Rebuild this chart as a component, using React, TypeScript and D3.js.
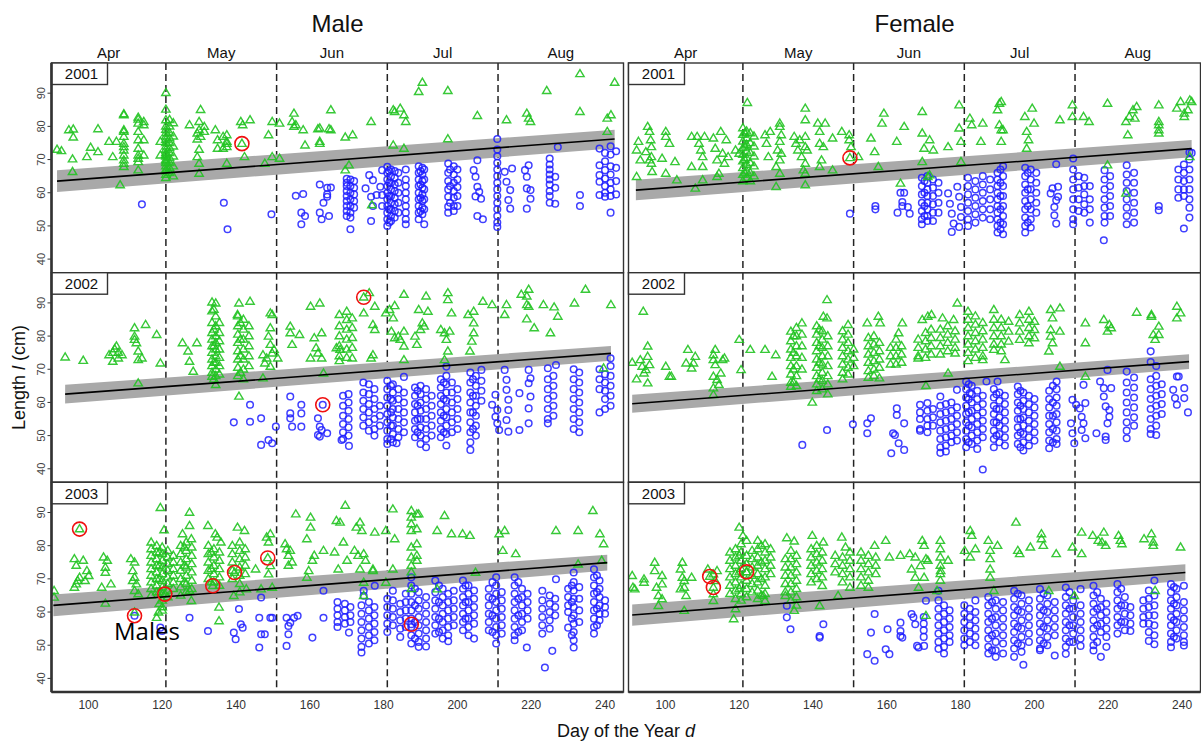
import React from 'react';
import * as d3 from 'd3';

// Each entry: [day of year, lengths (cm) measured on that day]
type Col = [number, number[]];

const m01Tri: Col[] = [
  [91.5,[73.0]],[92.7,[72.6]],[94.7,[78.9]],[95.7,[70.1,66.3]],[95.9,[79.1,76.7]],
  [99.6,[70.8]],[100.6,[73.6]],[102.6,[79.2,72.3]],
  [105.6,[75.4]],[106.6,[70.8]],[107.6,[75.4]],[108.6,[62.3]],
  [109.6,[83.7,83.4,78.9,78.4,76.9,74.8,73.8,72.8,71.3,69.8,68.8,67.8]],
  [113.5,[82.7,82.1,80.9,78.4,75.9,73.3,71.3,70.3,69.3,66.8]],
  [115,[81.4,80.4,75.9,71.3]],[119.5,[75.4,71.3]],
  [121,[90.1,85.1,81.9,80,79,78,77,76,75,74,73,72,71.5,71,70,69.5,69,68,67,66.5,65.5,64.5]],
  [122,[82,80,78,76.5,75,73.5,72,70.5,69,67.5,66]],
  [123,[81,77,74,71,68,65]],
  [127.4,[80.4]],[129.5,[77.9,76.1,70.8]],[130,[81.4,78.9,73,68.8,65.8]],[130.4,[85,76.9]],
  [131.4,[79.9,78.4]],[134.4,[78.9]],[135,[75.9,73.3]],[136.5,[76.9,73.3]],[137.5,[74.8,75.4,73.8,68.8,77.4]],
  [141.6,[74.8]],[141.3,[81.4]],[141.8,[80.4]],[143.8,[81.9]],[142.3,[70.8]],
  [147.8,[68.8]],[148.8,[77.4]],[149.8,[81.4,70.8]],[151.8,[80.9,70.3]],
  [155.7,[83.9,79.9]],[155.2,[81.4]],[156.2,[80.4]],[158.2,[78.9]],[158.7,[74.3]],
  [162.2,[79.2]],[162.7,[79.4,75.4,74.8]],[165.2,[79.2]],[165.7,[84.9,78.9]],
  [169.6,[76.7,66.8]],[171.6,[77.4]],[170.6,[68.3]],[176.6,[81.4]],[176.8,[56.3]],
  [182.6,[84.9,74.3]],[183,[84.4]],[184.5,[85.4]],[185.5,[83.4,73.3]],[186,[81.4]],
  [189.5,[90.4]],[190.5,[93.2]],[197.4,[90.7,76.2]],[205.4,[83.2]],
  [213.3,[81.9]],[218.8,[83.9]],[219.3,[82.4]],[219.8,[81.4]],[224.2,[90.7]],[233.2,[95.8,84.4]],
  [240.6,[82.4,78.4]],[241.6,[83.4]],[242.6,[93.2]],
];
const m01Circ: Col[] = [
  [114.5,[56.5]],[136.7,[57.0]],[137.7,[49.0]],[149.6,[53.5]],
  [156.2,[59.1]],[158.2,[59.6]],[157.7,[54.0,50.5]],[158.7,[53.0]],
  [162.7,[62.5,54.0]],[163.7,[57.0]],[163.2,[52.0]],[164.7,[61.5,59.5,58.8]],[165.7,[61.6]],[165.2,[53.0]],
  [170,[64.2,63,62,60.5,59,57.5,56,54.5,53]],
  [171,[64,62,60,58,56,54,52.5,49]],
  [172,[63.5,61.5,59.5,57.5,55.5]],
  [175.1,[61.3]],[176.1,[65.3]],[177.1,[63.8,56.0]],[176.6,[58.8,51.5]],[178.1,[59.3]],[179.1,[61.8]],[179.6,[66.8,59.3,56.0]],
  [181,[67.8,66,64,62,60,58,56,54,52,50]],
  [181.5,[66.5,63,59,55,51]],
  [182,[67,65,63,61,59,57,55,53,51.5]],
  [183,[66.5,64.5,62.5,60.5,58.5,56.5,54.5,52.5]],
  [184,[66,63,60,57,54]],
  [186,[67,64,62,60,58,56,54,52,50.5]],
  [189.5,[68,66,64,62,60,58,56,54,52]],
  [190,[66.5,62.5,58.5,54.5]],
  [190.5,[67.5,65.5,63.5,61.5,59.5,57.5,55.5,53.5]],
  [191,[67,64,61,58,55,50.5]],
  [197.5,[68.8,66,63.5,61,58.8,55.8,54]],
  [198,[67,62,57]],
  [199,[68,65.5,63,60.5,58.5,56,54.5]],
  [200,[67,64,61.7,59,56]],
  [204.4,[66.8]],[204.9,[64.8,58.9]],[205.4,[69.8,61.8,53.0]],[205.9,[60.3]],[206.4,[58.2]],[206.9,[52.0]],
  [210.8,[76.2,73,71,69,67,65,63,61,59,57,55,53,51,49.7]],
  [212.8,[66.3]],[213.3,[63.3]],[214.3,[60.8,55.2]],[213.8,[57.8]],[214.8,[67.3]],
  [218.3,[66.8]],[218.8,[64.8,61.3,55.2]],[219.3,[68.3]],[219.8,[60.8,58.2]],
  [225,[70.3,68.5,67,65.5,64,62.5,60.5,59,57]],[227.2,[73.8]],[226.5,[56.7,64.8,61.5]],
  [233.2,[59.3,56.0]],
  [238.5,[73.3,68.3,65.3,63.3,59.3]],
  [240,[72,69.5,66.8,64.3,62,60,58.8]],
  [241.5,[74,71.5,68,65.5,63,61,59,54]],
  [243,[72.5,67.5,63.5,59.5]],
];

const f01Tri: Col[] = [
  [92.2,[72.8,64.8]],[92.7,[75.4]],[93.2,[69.8]],[95.2,[79.9]],[95.7,[78.4,69.8]],[96,[75.9]],[96.2,[73.8,70.8,68.8]],[96.4,[66.3]],[94.7,[72.3]],
  [99.1,[70.3]],[100.1,[78.4,76.9,65.8]],[101.1,[74.8]],[103.1,[63.8]],[102.6,[69.3]],
  [107.1,[76.9,67.8]],[108.1,[61.3]],[108.6,[76.9]],[109.1,[74.8]],[109.6,[72.8]],[110.1,[70.8,67.8,63.8]],[110.6,[76.9]],
  [113,[76.4]],[113.5,[73.3]],[114,[69.8,64.8]],[114.5,[65.8]],[115,[78.4]],[115.5,[71.8]],[116,[68.8]],[116.5,[75.9]],[117,[70.8]],
  [119,[72.8]],[120,[71.8]],
  [121,[79.5,77.5,75.5,73.5,71.5,69.5,67.5,65.5,63.5]],
  [121.5,[78,74,70,66]],
  [122,[78.5,76.5,74.5,72.5,70.5,68.5,66.5,64.5]],
  [122.2,[87.1]],
  [123,[78,75,72,69,66,63.5]],
  [124,[77,74,71,68,65]],
  [127,[77.4]],[127.4,[74.8]],[127.9,[70.8]],[128.4,[78.4]],
  [131,[80.9,79.9,75.4,69.8,65.8]],[131.4,[77.4,71.8]],[130.4,[72.8]],[130,[67.8,61.8]],
  [134.9,[76.9]],[135.4,[74.8]],[135.9,[72.8]],[136.4,[75.9]],[136.9,[70.8]],[137.9,[85.4,81.9,76.9,73.8,68.8,65.8,62.3]],[138.4,[72.8]],[137.4,[66.8]],
  [141.3,[80.9]],[141.8,[78.4,74.8,67.8]],[142.3,[69.8]],[142.8,[73.8]],[143.3,[80.9]],[145.3,[76.4,66.8]],
  [147.8,[78.4]],[149.8,[77.4,75.9]],[150.3,[73.8]],[150,[70.5]],[152.3,[70.8]],
  [155.7,[76.4]],[156.7,[72.3]],[157.7,[67.8]],[158.7,[80.9]],[159.2,[83.9]],[162.7,[75.4]],[163.7,[62.8]],[164.7,[79.9]],
  [169.6,[84.4,77.9,69.3]],[170.1,[73.3]],[171.6,[75.9,65.3]],[172.6,[72.8]],[171.1,[64.8]],
  [176.6,[73.8]],[179.6,[86.4,79.4]],[180.1,[75.4,69.3]],
  [182.5,[82.4]],[183,[80.4]],[186,[80.9]],[185.5,[75.4]],[190,[84.9]],[190.5,[86.9,80.4]],[191,[87.4,78.9,75.4]],[191.5,[78.9]],
  [197.4,[82.9]],[197.9,[78.4,73.3]],[198.4,[75.9]],[199.4,[85.4]],[199.9,[80.9]],
  [206.9,[81.9]],[210.3,[86.4,82.9]],[213.3,[82.9]],[214.8,[81.4]],
  [219.8,[86.9,68.3]],[224.8,[81.4,59.8]],[225.3,[77.4]],[225.7,[82.9]],[226.7,[84.9]],[227.2,[82.4]],[227.7,[85.9]],
  [233.7,[86.4,81.4,80.4,78.9,77.9]],
  [238.6,[85.4]],[239.6,[87.4]],[240.6,[83.9,82.9]],[242.1,[87.9,70.8]],[242.6,[87.4]],[241.6,[84.9]],
];
const f01Circ: Col[] = [
  [150,[53.7]],
  [156.9,[56.0,55.0]],[162.9,[54.0]],[163.7,[60.0]],[164.7,[60.0]],[164.2,[56.0,57.2]],[165.7,[55.7]],[166.2,[53.7]],
  [169.5,[64.5,62,59.5,57,54.5,52,50.5]],
  [170.2,[63.5,60,56,53]],
  [171,[65,63,61,59,57,55,53,51.5]],
  [172.5,[64,61.5,59,56.5,54,51.5]],
  [174,[63,60,57,54]],
  [176.6,[59.8]],[177.1,[56.7]],[177.6,[53.7,48.2]],[178.1,[50.7]],[179.1,[61.8]],[179.6,[58.8,49.7]],[180.1,[55.7,52.7]],
  [182,[64.5,62,59.5,57,54.5,52,50]],
  [184,[63.5,61,58.5,56,53.5,51]],
  [186,[65,62.5,60,57.5,55,52.5]],
  [188,[64,61,58,55,52]],
  [190,[66,64,62,60,58,56,54,52,50,48]],
  [190.8,[67,63,59,55,51,49]],
  [191.5,[68,65,62,59,56,53,50.5,47.5]],
  [197.5,[67.5,65,62.5,60,57.5,55,52.5,50,48]],
  [198.2,[66,61,56,51]],
  [199,[67,64,61,58,55,52,49.5]],
  [200.5,[66,63,60,57,54]],
  [204.4,[59.8]],[204.9,[61.3]],[205.9,[57.7,50.7,68.6]],[205.4,[55.7,53.2]],[206.4,[61.8,58.8]],
  [210.5,[70.3,67,64,61,58,55,52,50.5]],
  [212,[65,61.5,58,54.5]],
  [213.5,[64.5,62,59.5,56.5,54]],
  [215,[62,58,55,51]],
  [219,[66.8,64,61,58,55.5,53,51]],
  [220.5,[65,62,59,56,53]],
  [218.8,[45.7]],
  [225,[68.3,65.5,63,60.5,58,55.5,53,50.5]],
  [227,[66,63,60,57,54,51]],
  [233.7,[56.0,54.7]],
  [239,[67,64,61,58.5]],
  [240.5,[68.5,66,63.5,61,59,49.2]],
  [242,[72.2,70,67,64,61,58,55.5,52.5]],
  [242.6,[72.0]],
];

const m02Tri: Col[] = [
  [93.7,[73.6]],[98.6,[72.6]],
  [105.6,[74.3]],[106.6,[75.0,72.3]],[107.1,[76.1]],[107.6,[76.9]],[108.1,[75.0,73.3]],[109.1,[74.3]],[113.5,[65.8,75.4,72.8]],
  [112.5,[82.4,79.9,78.9]],[113,[77.9]],[114.5,[73.3]],[115.5,[83.4]],[118.5,[80.4]],[119.5,[71.8]],
  [125.5,[77.9]],[127,[75.4]],[127.4,[72.3]],[128.4,[69.3]],[129.4,[77.9]],
  [133.5,[90.2,87.5,84,81,79,77,75,73,71,69,67.8]],
  [134,[88,82,77,72,67]],
  [134.5,[89.9,86,83,80,78,76,74,72,70,68,65.3]],
  [135.5,[84,81,78.5,76,73.5,71,68.5]],
  [140.8,[89.9,61.8]],[143.8,[90.4]],[140.4,[86.4]],
  [140.5,[86,83,80.5,78,75.5,73,70.5,68]],
  [141.2,[84,79,74,69]],
  [142,[85,82,79,76,73,70,67]],
  [143.5,[83,80,77,74,71]],
  [147.3,[67.3,74.3]],[148.3,[73.3]],[149.3,[86.9,82.4,77.4,70.8]],[149.8,[86.4,74.8]],[148.8,[79.9]],[147.8,[71.8]],[150.3,[75.9]],[151.3,[73.3]],
  [154.7,[82.9,80.9]],[155.2,[77.4]],[157.2,[80.4]],[160.2,[88.9,73.3]],[162.7,[89.9]],[161.2,[79.4]],[161.7,[76.4]],[163.2,[80.9,73.3]],[162.2,[74.8]],[163.7,[68.8]],
  [167.2,[76.4]],[168.2,[75.9]],
  [168,[86.4,83,80,77,74,72.5]],
  [170,[87.4,84.9,82,79,76,73.5]],
  [171.5,[85.4,82.5,79.5,76.5,73.3]],
  [174.6,[91.7,86.9]],[176.1,[93.0]],[177.6,[88.9,81.9]],[177.1,[83.4,74.3]],[176.6,[73.3]],
  [180.6,[86.9]],[181.6,[87.9]],[183,[89.1,79.4]],[182.6,[85.4]],[185.5,[92.5,81.4,76.9,72.8]],[182.1,[81.4]],[184,[79.9]],[184.5,[78.9]],
  [188.5,[79.9]],[189,[77.4]],[189.5,[87.9]],[190.5,[83.9]],[191,[82.9]],[191.5,[92.0]],[192,[87.4]],[190,[81.9]],
  [195.5,[81.9]],[196.5,[80.9,72.8]],[197,[78.9]],[197.4,[93.0,90.9,75.4]],[197.9,[81.4]],[198.4,[86.9]],
  [202.9,[86.4]],[204.4,[87.4,83.9,80.9]],[203.9,[78.4]],[203.4,[75.4]],[206.9,[90.4]],[209.4,[89.4]],
  [212.8,[86.4]],[213.3,[89.4]],[217.3,[92.5]],[219.3,[94.0,88.9]],[218.8,[92.0,89.4,85.1]],[220.8,[82.4]],[223.3,[89.4]],[226.2,[88.7]],[227.2,[85.9]],[225.2,[80.9]],[231.7,[89.9]],[234.7,[94.0]],[241.6,[89.4]],[239.6,[70.3]],
];
const m02Circ: Col[] = [
  [139.4,[54.0]],[143.8,[59.3,54.2]],[146.8,[55.2,47.2]],[148.8,[48.7]],[149.8,[47.7]],[150.8,[52.7]],
  [154.7,[61.8,56.7,55.2]],[155.2,[52.7]],[157.7,[59.3,56.7,52.7]],
  [163.5,[59.3]],[162.2,[55.2,50.2]],[162.7,[52.7,49.7]],[163.2,[51.7]],[164.7,[50.7]],
  [169,[62,59,56,53.5,51,49]],
  [170.5,[62.5,60,57.5,55,52.5,50]],
  [170.6,[46.9]],[168.6,[48.7]],
  [174.5,[66,63,60.5,58,55.5,53]],
  [176,[65.5,62.5,59.5,57,54,51.5]],
  [177.5,[64,61,58,55,52,50]],
  [179,[59,56,53]],
  [181,[66.5,64,61.5,59,56.5,54,51.5,49,47.5]],
  [182,[65,61,57,53,49]],
  [182.5,[65.5,63,60.5,58,55.5,53,50.5,48]],
  [184,[64,61,58,55,52,49.5]],
  [185.5,[67.7,63,60,57,54,51]],
  [183.5,[47.7]],
  [188.5,[64.5,62,59.5,57,54.5,52,49.5]],
  [189.2,[63.5,59,55,51]],
  [190,[65,62.5,60,57.5,55,52.5,50,47.5]],
  [191.5,[64,61,58,55,52,49,46.5]],
  [193,[62,59,56,53,50]],
  [195.5,[67,64.5,62,59.5,57,54.5,52,49.5]],
  [196.3,[66,61,56,51]],
  [197,[70.8,68,65.5,63,60.5,58,55.5,53,50.5,47]],
  [198.5,[66,63,60,57,54,51]],
  [200,[64,61,58,55,52]],
  [203.5,[69,66,63,60,57,54,51,48,45.7]],
  [204.2,[67,62,57,52]],
  [205,[68,65,62,59,56,53,50]],
  [206.5,[69.8,66.5,63.5,60.5]],
  [209.4,[59.3]],[210.3,[62.3,55.7]],[210.8,[57.7,53.7]],[211.3,[51.7]],
  [212.8,[69.8]],[213.3,[66.8,63.8,54.7]],[213.8,[60.8,57.7,51.2]],[216.8,[51.7,62.8]],
  [219.3,[69.8,65.8,53.7,58.2]],[219.8,[67.3,61.8]],
  [224.5,[70.3,67,64,61,58,55,53.7]],
  [226,[68,65,62,59,56]],
  [226.7,[71.3]],
  [231.5,[70,67,64,61,58,55,52]],
  [233,[69,66,63,60,57,54,51]],
  [238.5,[70,67,64,57]],
  [240,[68.5,66,63.5,61,58]],
  [241.5,[73.3,71,68,65,62,59]],
];

const f02Tri: Col[] = [
  [91,[72.0]],[92.2,[67.0]],[94,[87.4]],[93.2,[72.8]],[93.7,[70.8]],[94.2,[68.8]],[94.7,[69.8]],[95.2,[73.8,76.9,65.8]],[95.7,[71.3]],
  [100.1,[70.8]],[101.1,[67.8]],[101.6,[67.8]],[106.1,[75.9]],[105.6,[71.8]],[107.1,[70.3]],[107.6,[71.8]],[108.1,[73.8]],
  [113,[74.3,72.8,67.8,64.3,62.3]],[113.5,[75.9,71.3]],[114,[66.8]],[114.5,[65.3]],[115.5,[72.8]],[116,[73.3]],[115,[68.8]],
  [120,[78.9]],[120.5,[69.8]],[123,[75.9]],[127,[75.9]],[128.9,[67.8]],[129.9,[74.3]],
  [134,[81.4,78.5,76,73.5,71,68.5,66,64.8]],
  [134.7,[80,75,70,66]],
  [135.5,[82.5,80,77,74,71,68,65]],
  [137,[83.9,80.5,77,73.5,70]],
  [139.8,[60.0]],
  [143.8,[90.9,85.4]],[142.8,[85.9]],
  [141,[83,80.5,78,75.5,73,70.5,68,65.5,63.5]],
  [141.7,[82,77,72,67]],
  [142.5,[81.5,79,76.5,74,71.5,69,66.5,64]],
  [144,[80,77,74,71,68,65.5,62.5]],
  [148,[81.5,79,76.5,74,71.5,69,67]],
  [149.5,[83.4,80.5,78,75.5,73,70.5,68.5]],
  [151,[76,73.5,71]],
  [154.7,[83.9]],[157.7,[85.9]],[158.2,[83.9]],
  [155,[79.5,77,74.5,72,69.5,67.5]],
  [156.5,[80,77.5,75,72.5,70,68]],
  [158,[78,75.5,73,70.5,67.3]],
  [164.2,[83.9]],[163.2,[80.9]],
  [161,[76.5,74,71.5]],[162.5,[79,76.5,74,71.5]],[164,[77,74.5,72]],
  [169.6,[84.9]],[171.1,[85.9]],[172.1,[86.4]],
  [168.5,[79,76.5,74,73.3]],[170.5,[81,78.5,76,73.5]],[172,[82,79.5,77,74.5]],
  [170.6,[65.0]],[176.6,[68.8]],
  [175.1,[85.4]],[178.1,[84.9]],[179.1,[89.9]],
  [174.5,[82,79.5,77,74.5]],[176.5,[83,80.5,78,75.5]],[178.5,[81.5,79,76.5,74.8]],
  [182,[87.4,85,82.5,80,77.5,75,72.5]],
  [184,[86,83.5,81,78.5,76,73.5]],
  [186,[84,81.5,79,76.5,74,72.8]],
  [189,[87.9,85,82.5,80,77.5,75.9]],
  [191,[85,82.5,80,77.5,75.5]],
  [193,[84.4,81.4,78.4]],[192,[72.8]],
  [196,[86.4,83.9,81.4,78.9]],
  [198.5,[87.4,85,82.5,80,77.9]],
  [200,[84.4,81.9,79.4]],
  [204.4,[87.9,81.9,79.9]],[206.9,[88.4,81.4,70.8]],[204.9,[85.4,77.9]],[203.9,[75.4]],
  [213.8,[83.9,77.9,67.8]],[218.8,[84.9]],[220.3,[83.4]],[220.8,[82.4]],[219.8,[81.4]],
  [227.7,[87.1]],[231.7,[86.4,85.9]],[233.7,[82.9,80.4]],[232.2,[80.4]],[232.7,[78.9]],
  [238.6,[88.9,85.4]],[239.6,[86.9]],
];
const f02Circ: Col[] = [
  [137.1,[47.2]],[143.8,[51.7]],[150.8,[53.4]],[154.7,[53.7,50.7]],[155.7,[55.2]],[161.7,[50.7]],[162.2,[50.2]],[162.7,[58.2,56.2]],[163.2,[47.7]],[161.2,[44.7]],[164.7,[53.7,45.7]],
  [169,[59.3,57,55,52,51.5]],
  [171,[59.8,57.5,55,53,51]],
  [172.5,[58,55.5,53]],
  [174.5,[61.8,59,56.5,54,51.5,49,46.5,44.8]],
  [176,[59.5,57,54.5,52,49.5,47,45.2]],
  [177.5,[60,57.5,55,52.5,50,48]],
  [179,[63.8,58.5,56,53.5,51,48.5]],
  [181.5,[66.3,64,61.5,59,56.5,54,51.5,49,46.5]],
  [182.2,[65.5,61,57,53,48]],
  [183,[65,62.5,60,57.5,55,52.5,50,47.5]],
  [184.5,[63.5,61,58.5,56,53.5,51,48.5,46]],
  [186,[62,59.5,57,54.5,52,49.5,39.8]],
  [182.5,[62.8]],[187,[66.3]],
  [189,[64,61.5,59,56.5,54,51.5,49,46.5]],
  [189.7,[62.5,58,54,50]],
  [190.5,[63,60.5,58,55.5,53,50.5,48]],
  [192,[62,59.5,57,54.5,52,49.5,47]],
  [190,[66.3]],
  [195.5,[64.8,62.5,60,57.5,55,52.5,50,47.5]],
  [196.2,[63.5,59,55,51,46.5]],
  [197,[63,60.5,58,55.5,53,50.5,48,45.5]],
  [198.5,[62,59.5,57,54.5,52,49.5,47]],
  [200,[61,58.5,56,53.5,51,48.5]],
  [204,[63.5,61,58.5,56,53.5,51,48.5,46.2]],
  [205,[65,60,56,52,48]],
  [206,[66.3,64,61.5,59,56.5,54,51.5,49,47.5]],
  [209.9,[53.7]],[210.3,[60.8,50.7]],[210.8,[47.7]],[211.3,[59.3]],[212.3,[58.2]],[212.8,[55.7,51.7]],[213.3,[53.7,65.3]],[213.8,[59.8,49.2]],
  [216.8,[50.7]],[217.8,[66.3]],[218.8,[64.3,61.8]],[219.3,[58.8,49.7,48.7]],[220.3,[57.7,55.7]],[219.8,[53.7,69.8]],[220.8,[64.3]],
  [225,[69.3,66,63,60,57,54,51.5,49.2]],
  [227,[67.5,64.5,61.5,58.5,55.5,53]],
  [231.5,[75.4,72.2,67,64,61,58,55,52,50.5]],
  [233,[71,68,65,62,59,56,53,50.2]],
  [234.5,[65.5,62.5,59.5,56.5]],
  [237.6,[63.8]],[238.1,[61.3]],[238.6,[67.8,59.3]],[239.1,[67.8]],[240.6,[64.3,61.3]],[241.6,[57.0]],
];

const m03Tri: Col[] = [
  [97.6,[85.0,70.4]],[90.7,[66.4,64.4]],
  [96.2,[76.0,67.4]],[96.7,[74.0,68.4]],[98.6,[75.5]],[97.1,[69.4]],[99.6,[72.4]],[100.1,[70.9]],[99.1,[69.4]],
  [103.6,[67.4]],[104.1,[76.5]],[105.1,[75.5]],[104.6,[73.4,71.9,62.6]],[106.1,[68.4]],
  [111.5,[76.0]],[112.5,[75.0,70.4,66.4,59.9]],[112,[72.4,69.4]],[113,[68.4]],[113.5,[65.4]],
  [119.5,[91.4]],[120.5,[84.7]],
  [117,[81,79,77,75,73,71,69,67,65]],
  [118.5,[80,78,76,74,72,70,68,66,58.3]],
  [119.2,[78,74,70,66,62.5]],
  [120,[79.5,77.5,75.5,73.5,71.5,69.5,67.5,65.5,63.5,61.5,60.5]],
  [121.5,[78.5,76.5,74.5,72.5,70.5,68.5,66.5,64.5]],
  [123,[77,75,73,71,69,67]],
  [119,[59.9]],[120.7,[65.4]],
  [127.4,[90.0,86.0,66.4]],[125.5,[83.5]],[127.9,[82.0,63.4]],
  [125,[80,77.5,75,72.5,70,67.5,65]],
  [126,[79.5,74,69]],
  [126.5,[81,78.5,76,73.5,71,68.5,66]],
  [128,[79.5,77,74.5,72,69.5,67]],
  [132.4,[86.0]],[134.4,[83.5]],[134.9,[82.5]],[135.9,[81.0]],
  [132.5,[80,77.5,75,72.5,70]],
  [133.3,[78,73,69]],
  [134,[79,76.5,74,71.5,69]],
  [135.5,[78,75.5,73,70.5,68]],
  [135.4,[61.4,57.3]],[133.7,[67.9]],
  [140.4,[85.5]],[142.3,[84.5]],
  [139,[80,77.5,75,72.5,70]],
  [141,[81,78.5,76,73.5,71,68.5,66]],
  [142.5,[79,76.5,74,71.5]],
  [139.4,[64.9]],[142.8,[66.9]],[139.6,[71.9]],
  [145.3,[72.9]],[146.8,[66.9]],[148.3,[82.5]],[148.8,[81.0,71.4]],[149.3,[73.9,83.5]],[149.8,[67.4]],[148.6,[76.3]],
  [153.3,[80.5]],[153.7,[79.0]],[154.2,[74.0,77.0]],[155.2,[75.0]],[154.7,[78.5]],[156.2,[89.5]],[159.2,[82.0,70.4]],[159.7,[72.4]],[160.2,[88.5,85.5]],[161.2,[77.0]],[160.7,[75.5]],[163.7,[78.5]],[166.7,[78.0]],[167.7,[72.9]],[167.2,[87.5]],[168.2,[87.0]],[169.1,[81.0]],[169.6,[92.1]],[170.1,[75.5]],[172.1,[78.5]],
  [172.6,[85.5]],[173.6,[87.0,72.9]],[174.1,[84.5]],[174.6,[77.5,68.9,64.9]],[173.1,[77.0]],[175.1,[75.5]],[177.1,[72.4,72.9]],[177.6,[84.0]],[180.6,[84.5,68.9]],[182.5,[91.0,72.9]],[183,[82.0]],
  [187.5,[90.5,88.5,86.5,84.5,79.5,76.5,74,72,67]],
  [189,[89.5,85,80.5,77,75.5]],
  [189.5,[89.5]],
  [194.5,[84.5,66.9]],[196.5,[89.0]],[198.4,[83.5]],[201.4,[83.5]],[203.4,[83.0]],[204.9,[71.9]],[211.3,[83.5]],[212.8,[84.5]],[212.3,[78.5]],[215.8,[77.5]],[226.7,[84.5]],[232.7,[84.5,74.4]],[236.7,[90.5]],[238.6,[83.5]],[239.6,[80.5]],[239.1,[75.5]],
];
const m03Circ: Col[] = [
  [112.5,[58.9]],
  [119.5,[55.3]],[120,[54.3]],[127.4,[58.3]],[132.4,[54.3]],[140.8,[60.9]],[141.3,[56.3]],[141.8,[55.3]],[139.4,[53.8]],[139.9,[51.8]],[146.8,[64.4,53.3]],[146.3,[58.3,49.3]],[147.8,[53.3]],[149.3,[58.3]],[149.8,[58.3]],
  [153.7,[58.3,49.8]],[154.7,[56.8]],[154.2,[55.8,53.3]],[155.7,[58.3]],[156.7,[58.9]],[160.7,[52.3]],[163.7,[58.3,66.4]],
  [167.5,[63,61,59,57,55.5]],
  [169.5,[62.5,60.5,58.5,56.5]],
  [171,[61.5,59,57]],
  [170.6,[53.8]],
  [174.6,[66.4,64.9]],
  [174,[62,59.5,57,54.5,52,49.5,47.8]],
  [176,[63,60.5,58,55.5,53,50.5]],
  [177.5,[61.5,59,56.5,54,51.5]],
  [177.6,[67.9]],
  [181,[64,61.5,59,56.5,54]],
  [182.5,[66.4,63.5,61,58.5,56]],
  [184.5,[62.5,60,57.5,55,52.5]],
  [186,[65.5,63,60.5,58,55.5]],
  [187.5,[70.5,68,65.5,63,60.5,58,56.3,55.5,53,50.5]],
  [188.5,[67,62,57,52]],
  [189.5,[66,63.5,61,58.5,56,53.5,51,49.5]],
  [191.5,[64.5,62,59.5,57,54.5,52,49.6]],
  [194,[69.5,66,63.5,61,58.5,56,53.5]],
  [195,[68,63,58,54]],
  [196,[67,64.5,62,59.5,57,54.5,52]],
  [197.5,[65.5,63,60.5,58,55.5,53,51.2]],
  [199,[66.4,63.5,61,58.5,56]],
  [201.5,[69.5,67,64.5,62,59.5,57,54.5]],
  [202.2,[68,63,58]],
  [203,[68,65.5,63,60.5,58,55.5,53]],
  [204.5,[66.5,64,61.5,59,56.5,52]],
  [208.5,[67,64.5,62,59.5,57,54.5]],
  [209.5,[69,64,59,54]],
  [210.5,[70.5,68,65.5,63,60.5,58,55.5,53,50.5]],
  [212,[66,63.5,61,58.5,56,53.5]],
  [215.5,[70.5,68,65.5,63,60.5,58,55.5,53,51.5]],
  [216.5,[69,64,59,54]],
  [217.5,[67,64.5,62,59.5,57,54.5]],
  [219,[65.5,63,60.5,58]],
  [218.8,[49.3]],
  [226.7,[69.9]],[223.7,[43.3]],[225.7,[48.3]],
  [223,[66.4,63.5,61,58.5,56,53.5]],
  [225,[65,62.5,60,57.5,55]],
  [226.5,[64,61.5,59]],
  [230,[67,64.5,62,60,55.3]],
  [231,[68,63,58,53]],
  [231.5,[71.9,69,66.5,64,61.5,59,56.5,54,51.5,49.3]],
  [233,[67.5,64,60.5,57]],
  [237,[72.9,70.5,68,65.5,63,60.5,58,55.5,53.5]],
  [237.8,[71,66,61,56]],
  [238.5,[69.5,67,64.5,62,59.5,57.5]],
  [240,[63.5,61.5,59.5]],
];

const f03Tri: Col[] = [
  [91,[70.9]],[91.7,[66.9]],[91.2,[67.4]],[94.2,[69.9,68.9]],[97.1,[74.9,72.4]],[97.6,[67.4]],[98.1,[64.9,61.9]],[99.1,[70.9,68.4,63.9]],
  [104.1,[72.9,66.9]],[104.6,[74.9,70.4]],[105.1,[69.4,67.4,60.4]],[105.6,[64.9]],[107.1,[70.4]],
  [112,[70.7]],[113,[67.4,71.4,65.4,63.4]],[111.5,[72.9]],[113.5,[69.4]],[114,[72.4]],
  [120,[85.5,77,72,67]],[121,[83.0]],
  [117.5,[78,75.5,73,70.5,68,65.5]],
  [119,[79,76.5,74,71.5,69,66.5,64,60.9]],
  [120.5,[80.5,78,75.5,73,70.5,68,65.5,63.5]],
  [122,[81.5,77,74.5,72.1,72,69.5,67,64.5]],
  [123.5,[78.5,76,73.5,71,68.5,66]],
  [118.5,[57.9]],
  [125,[81.5,79,76.5,74,71.5,69,66.5,64]],
  [126,[80,75,70,65]],
  [127,[80.5,78,75.5,73,70.5,68,65.5,63.4]],
  [128.5,[79,76.5,74,71.5]],
  [126.5,[64.9]],
  [132.9,[82.3]],[134.9,[81.3,60.4]],
  [132.5,[76,73.5,71,68.5,66,64.9]],
  [134,[78.5,76,73.5,71,68.5,66,63.5]],
  [135.5,[77,74.5,72,69.5,67,64.5,62]],
  [139.8,[83.0]],[142.8,[81.0]],
  [139.5,[79,76.5,74,71.5,69]],
  [141,[80,77.5,75,72.5,70]],
  [142.5,[78,75.5,73,70.5,67.9]],
  [141.8,[61.9]],
  [147.8,[82.5]],[148.8,[79.5]],
  [146,[77,74.5,72]],
  [148,[76.5,74,71.5,69]],
  [150,[78,75.5,73,70.5,67.4]],
  [146.8,[64.9]],
  [156.7,[80.0]],[159.7,[81.5]],
  [153,[78,75.5,73,70.5,68]],
  [155,[77,74.5,72,69.5,67.4]],
  [157,[76.5,74,71.5]],
  [160.7,[76.5]],[163.7,[77.0]],[166.2,[77.5]],[166.7,[72.9]],[167.7,[76.5,70.4]],[168.6,[67.4]],[169.1,[73.9]],[169.6,[81.5]],[170.1,[80.0,70.4]],[170.6,[76.0,58.9]],[171.1,[75.5]],
  [174.5,[81.5,79,76.5,74,71.5,69.5]],[176.6,[75.5]],[174.6,[72.4]],[173.6,[66.4]],
  [181.1,[78.5]],[182.6,[84.5,76.5]],[183,[83.0]],[184,[79.0]],[187.5,[81.5]],[188,[78.5,76.0,72.9,70.4]],[189,[66.4]],[190,[80.0]],[195,[87.0]],[195.5,[78.5]],[196,[77.5]],[198.9,[79.5]],[201.9,[83.5,82.0]],[202.4,[80.0]],[203.9,[66.4]],[205.9,[77.5]],[210.3,[79.5]],[212.8,[84.0,77.5]],[215.8,[83.0]],[217.3,[81.5]],[218.3,[81.0]],[218.8,[84.0]],[219.3,[80.0]],[222.8,[83.0]],[223.3,[81.5]],[223.7,[80.5]],[229.7,[82.0]],[231.7,[83.5]],[232.2,[81.0,80.0]],[239.6,[79.5]],[232.7,[66.4]],[210.8,[64.9]],
];
const f03Circ: Col[] = [
  [132.9,[61.9,58.4]],[133.9,[54.8]],[141.8,[52.8,52.3]],[142.8,[56.3]],
  [154.7,[47.3]],[155.7,[53.8]],[156.7,[59.4,45.3]],[160.2,[54.8]],[159.7,[48.8]],[160.7,[47.3]],[163.7,[56.8,54.3,52.8]],[164.2,[52.3]],[166.7,[59.4]],[167.2,[58.4]],[167.7,[56.3]],[168.2,[49.8]],[168.6,[49.3]],[170.1,[49.8]],
  [170,[58.5,56.5,54.5,52.5]],[170.6,[63.4]],
  [174,[66.4,63.5,61,58.5,56,53.5,51,48.9]],
  [175.5,[62,59.5,57,54.5,52,49.5,47.5]],
  [177,[60.5,58,55.5,53,51]],
  [181,[62,59.5,57,54.5,52,50]],
  [182.5,[61,58.5,56,53.5,51]],
  [184,[63.5,60,57.5,55,52.5,50]],
  [187.5,[64.5,62,59.5,57,54.5,52,49.5,47.5]],
  [188.5,[63,58,53,48.5]],
  [189.5,[63.5,61,58.5,56,53.5,51,48.5,46.5]],
  [191.5,[63,60.5,58,55.5,53,50.5,47.5]],
  [194.5,[66.4,64,61.5,59,56.5,54,51.5,49,46.5]],
  [195.5,[65.5,60.5,55.5,50.5]],
  [196.5,[65,62.5,60,57.5,55,52.5,50,48]],
  [198.5,[63.5,61,58.5,56,53.5,51]],
  [197,[44.1]],
  [201.5,[66.9,64,61.5,59,56.5,54,51.5,49,48.5]],
  [202.5,[65.5,60.5,55.5,50.5]],
  [203.5,[65,62.5,60,57.5,55,52.5,50]],
  [205.5,[63,60.5,58,55.5,53,46.9]],
  [208.5,[67.4,64.5,62,59.5,57,54.5,52,49.5,47.4]],
  [209.5,[66,61,56,51]],
  [210.5,[63.5,61,58.5,56,53.5,51]],
  [212.5,[66.9,62,59.5,57,54.5,52,49.8]],
  [216,[67.9,65,62.5,60,57.5,55,52.5,50,48.4]],
  [217,[66,61,56,51]],
  [218,[64,61.5,59,56.5,54,46.5]],
  [219.5,[62.5,60,57.5,55,52.5,49.5]],
  [222.5,[68.4,66,63.5,61,58.5,56,53.5]],
  [223.5,[67,62,57]],
  [224.5,[64.5,62,59.5,57,54.5]],
  [226,[61.5,59,56.5,54.3]],
  [229.5,[63.5,61,58.5,56.5]],
  [231,[66.5,64,61.5,59,56.5,54,51.3]],
  [232.5,[69.5,65,62,59,56,53,50.3]],
  [237,[68.4,66,63.5,61,58.5,56,53.5,51,49.4]],
  [237.8,[67.5,62.5,57.5,52.5]],
  [238.5,[67,64.5,62,59.5,57,54.5,52]],
  [240.5,[67.9,63,60.5,58,55.5,53,51,49.9]],
];

// Highlighted individuals [day, length]
const m01Red: [number, number][] = [[141.6, 74.8]];
const f01Red: [number, number][] = [[150, 70.5]];
const m02Red: [number, number][] = [[174.6, 91.7], [163.5, 59.3]];
const f02Red: [number, number][] = [];
const m03Red: [number, number][] = [[97.6, 85.0], [112.5, 58.9], [120.7, 65.4], [133.7, 67.9], [139.6, 71.9], [148.6, 76.3], [187.5, 56.3]];
const f03Red: [number, number][] = [[112, 70.7], [113, 67.4], [122, 72.1]];

// Fitted line: [startDay, endDay, startLen, endLen, startHalfBand, endHalfBand]
const m01Fit = [91.5, 242.6, 63.5, 76.2, 3.25, 2.8];
const f01Fit = [92.0, 242.6, 60.8, 73.3, 3.1, 2.6];
const m02Fit = [93.7, 241.6, 62.5, 74.8, 2.8, 2.2];
const f02Fit = [91.0, 241.9, 59.6, 72.3, 2.7, 2.2];
const m03Fit = [90.5, 240.6, 62.0, 74.9, 3.3, 2.4];
const f03Fit = [91.0, 240.9, 59.1, 71.9, 3.2, 2.5];

const sexes = ['Male', 'Female'];
const years = ['2001', '2002', '2003'];
const monthNames = ['Apr', 'May', 'Jun', 'Jul', 'Aug'];
const monthEdges = [90, 121, 151, 181, 211, 245];
const dayTicks = [100, 120, 140, 160, 180, 200, 220, 240];
const lenTicks = [40, 50, 60, 70, 80, 90];

const panels = [
  { col: 0, row: 0, tri: m01Tri, circ: m01Circ, fit: m01Fit, red: m01Red },
  { col: 1, row: 0, tri: f01Tri, circ: f01Circ, fit: f01Fit, red: f01Red },
  { col: 0, row: 1, tri: m02Tri, circ: m02Circ, fit: m02Fit, red: m02Red },
  { col: 1, row: 1, tri: f02Tri, circ: f02Circ, fit: f02Fit, red: f02Red },
  { col: 0, row: 2, tri: m03Tri, circ: m03Circ, fit: m03Fit, red: m03Red },
  { col: 1, row: 2, tri: f03Tri, circ: f03Circ, fit: f03Fit, red: f03Red },
];

const W = 1201;
const H = 743;
const colX = [51.5, 628.5];
const rowY = [63, 272.7, 482.3];
const PW = 572;
const PH = 209.7;
const FONT = "'Liberation Sans', Arial, sans-serif";
const GREEN = '#22c322';
const BLUE = '#1e1eff';

const x = d3.scaleLinear().domain([90, 245]).range([0, PW]);
const y = d3.scaleLinear().domain([35.9, 99.1]).range([PH, 0]);

const flat = (cols: Col[]) => cols.flatMap(([d, ls]) => ls.map((l) => [d, l] as [number, number]));

const triPath = (cx: number, cy: number) =>
  `M${cx},${cy - 4.4}L${cx + 4.2},${cy + 2.7}L${cx - 4.2},${cy + 2.7}Z`;

function Panel({ p }: { p: (typeof panels)[number] }) {
  const ox = colX[p.col];
  const oy = rowY[p.row];
  const [d0, d1, l0, l1, h0, h1] = p.fit;
  const ends = [
    { d: d0, c: l0, h: h0 },
    { d: d1, c: l1, h: h1 },
  ];
  const band = d3
    .area<{ d: number; c: number; h: number }>()
    .x((e) => x(e.d))
    .y0((e) => y(e.c - e.h))
    .y1((e) => y(e.c + e.h))(ends) as string;
  const fitLine = d3
    .line<{ d: number; c: number; h: number }>()
    .x((e) => x(e.d))
    .y((e) => y(e.c))(ends) as string;
  const clipId = `clip-${p.col}-${p.row}`;
  return (
    <g transform={`translate(${ox},${oy})`}>
      <defs>
        <clipPath id={clipId}>
          <rect x={0} y={0} width={PW} height={PH} />
        </clipPath>
      </defs>
      <g clipPath={`url(#${clipId})`}>
        {monthEdges.slice(1, -1).map((m) => (
          <line key={m} x1={x(m)} x2={x(m)} y1={0} y2={PH} stroke="#222" strokeWidth={1.5} strokeDasharray="7,4" />
        ))}
        <path d={band} fill="#a9a9a9" />
        {flat(p.circ).map(([d, l], i) => (
          <circle key={`c${i}`} cx={x(d)} cy={y(l)} r={3.3} fill="none" stroke={BLUE} strokeWidth={1.5} strokeOpacity={0.85} />
        ))}
        {flat(p.tri).map(([d, l], i) => (
          <path key={`t${i}`} d={triPath(x(d), y(l))} fill="none" stroke={GREEN} strokeWidth={1.4} strokeOpacity={0.9} />
        ))}
        <path d={fitLine} fill="none" stroke="#000" strokeWidth={1.6} />
        {p.red.map(([d, l], i) => (
          <circle key={`r${i}`} cx={x(d)} cy={y(l)} r={7} fill="none" stroke="#f01010" strokeWidth={1.6} />
        ))}
      </g>
      <rect x={0} y={0} width={PW} height={PH} fill="none" stroke="#333" strokeWidth={1.4} />
      <rect x={0} y={0} width={56} height={21.5} fill="#fff" stroke="#333" strokeWidth={1.4} />
      <text x={30} y={16.3} textAnchor="middle" fontFamily={FONT} fontSize={15} fill="#111">
        {years[p.row]}
      </text>
    </g>
  );
}

export default function App() {
  const bottom = rowY[2] + PH;
  return (
    <svg width={W} height={H} style={{ position: 'absolute', left: 0, top: 0, background: '#fff' }}>
      <rect x={0} y={0} width={W} height={H} fill="#fff" />
      {sexes.map((s, c) => (
        <g key={s}>
          <text x={colX[c] + PW / 2} y={32} textAnchor="middle" fontFamily={FONT} fontSize={24} fill="#111">
            {s}
          </text>
          {monthNames.map((m, i) => (
            <text
              key={m}
              x={colX[c] + x((monthEdges[i] + monthEdges[i + 1]) / 2)}
              y={57.5}
              textAnchor="middle"
              fontFamily={FONT}
              fontSize={15}
              fill="#111"
            >
              {m}
            </text>
          ))}
          {dayTicks.map((t) => (
            <text key={t} x={colX[c] + x(t)} y={709} textAnchor="middle" fontFamily={FONT} fontSize={12} fill="#333">
              {t}
            </text>
          ))}
          <line x1={colX[c]} x2={colX[c] + PW} y1={bottom} y2={bottom} stroke="#333" strokeWidth={2.4} />
        </g>
      ))}
      {panels.map((p) => (
        <Panel key={`${p.col}-${p.row}`} p={p} />
      ))}
      <line x1={colX[0]} x2={colX[0]} y1={rowY[0]} y2={bottom} stroke="#333" strokeWidth={2.6} />
      {rowY.map((ry, r) => (
        <g key={r}>
          {lenTicks.map((t) => (
            <g key={t}>
              <line x1={colX[0] - 4} x2={colX[0]} y1={ry + y(t)} y2={ry + y(t)} stroke="#333" strokeWidth={1} />
              <text
                transform={`translate(${colX[0] - 7},${ry + y(t)}) rotate(-90)`}
                textAnchor="middle"
                fontFamily={FONT}
                fontSize={11}
                fill="#444"
              >
                {t}
              </text>
            </g>
          ))}
        </g>
      ))}
      <text x={114} y={640} fontFamily="'Open Sans', 'Noto Sans', sans-serif" fontSize={24} fill="#000">
        Males
      </text>
      <text x={626} y={737} textAnchor="middle" fontFamily={FONT} fontSize={18} fill="#111">
        Day of the Year <tspan fontStyle="italic">d</tspan>
      </text>
      <text transform={`translate(25,${(rowY[0] + bottom) / 2}) rotate(-90)`} textAnchor="middle" fontFamily={FONT} fontSize={18} fill="#111">
        Length <tspan fontStyle="italic">l</tspan> (cm)
      </text>
    </svg>
  );
}
